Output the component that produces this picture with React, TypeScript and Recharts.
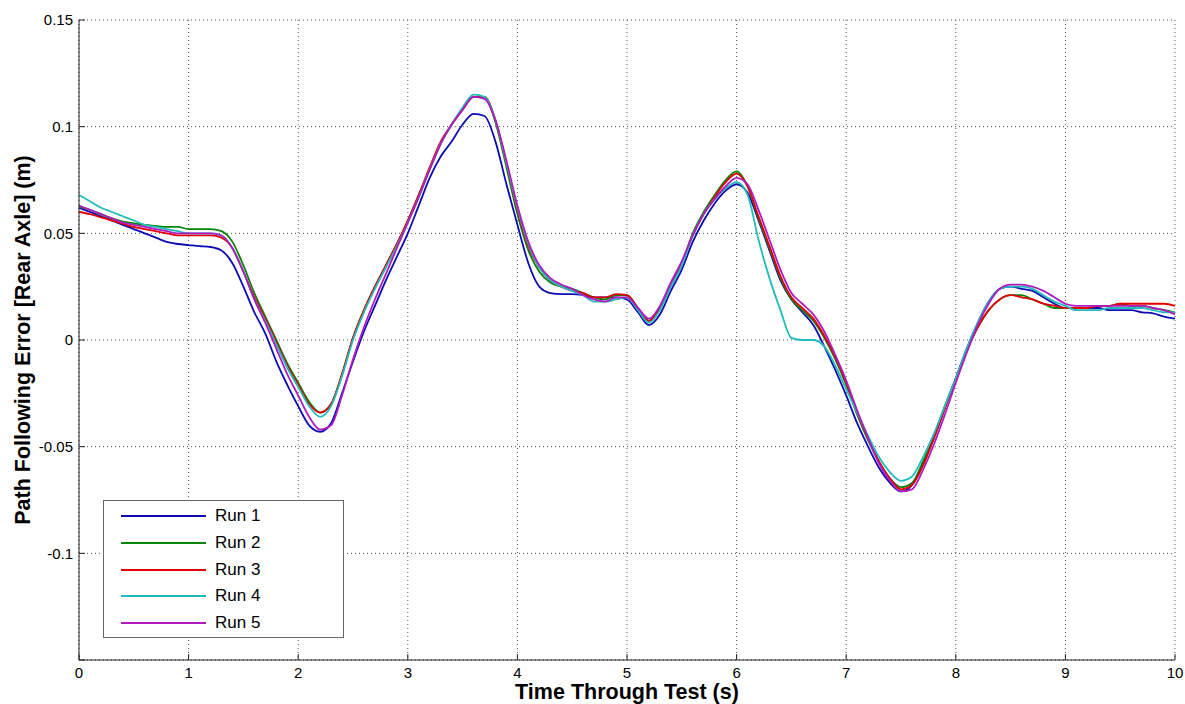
import React from 'react';
import { LineChart, Line, XAxis, YAxis, CartesianGrid, Legend } from 'recharts';

const time = [
  0, 0.1, 0.2, 0.3, 0.4, 0.5, 0.6, 0.7, 0.8, 0.9,
  1, 1.1, 1.2, 1.3, 1.4, 1.5, 1.6, 1.7, 1.8, 1.9,
  2, 2.1, 2.2, 2.3, 2.4, 2.5, 2.6, 2.7, 2.8, 2.9,
  3, 3.1, 3.2, 3.3, 3.4, 3.5, 3.6, 3.7, 3.8, 3.9,
  4, 4.1, 4.2, 4.3, 4.4, 4.5, 4.6, 4.7, 4.8, 4.9,
  5, 5.1, 5.2, 5.3, 5.4, 5.5, 5.6, 5.7, 5.8, 5.9,
  6, 6.1, 6.2, 6.3, 6.4, 6.5, 6.6, 6.7, 6.8, 6.9,
  7, 7.1, 7.2, 7.3, 7.4, 7.5, 7.6, 7.7, 7.8, 7.9,
  8, 8.1, 8.2, 8.3, 8.4, 8.5, 8.6, 8.7, 8.8, 8.9,
  9, 9.1, 9.2, 9.3, 9.4, 9.5, 9.6, 9.7, 9.8, 9.9,
  10,
];

const run1 = [
  0.062, 0.060, 0.058, 0.056, 0.054, 0.052, 0.050, 0.048, 0.046, 0.045,
  0.0445, 0.044, 0.0436, 0.042, 0.036, 0.025, 0.013, 0.003, -0.010, -0.021,
  -0.031, -0.040, -0.043, -0.039, -0.025, -0.010, 0.004, 0.016, 0.028, 0.039,
  0.050, 0.063, 0.076, 0.086, 0.093, 0.101, 0.106, 0.105, 0.093, 0.073,
  0.054, 0.036, 0.025, 0.022, 0.0215, 0.0215, 0.021, 0.020, 0.020, 0.020,
  0.019, 0.013, 0.007, 0.012, 0.023, 0.033, 0.046, 0.056, 0.064, 0.070,
  0.073, 0.069, 0.056, 0.042, 0.028, 0.019, 0.013, 0.007, -0.003, -0.014,
  -0.026, -0.039, -0.050, -0.060, -0.067, -0.071, -0.068, -0.058, -0.046, -0.032,
  -0.018, -0.004, 0.008, 0.018, 0.024, 0.025, 0.024, 0.023, 0.020, 0.017,
  0.015, 0.015, 0.015, 0.015, 0.014, 0.014, 0.014, 0.013, 0.0125, 0.011,
  0.010,
];

const run2 = [
  0.0625, 0.061, 0.059, 0.057, 0.0555, 0.0547, 0.054, 0.0535, 0.053, 0.053,
  0.052, 0.052, 0.052, 0.051, 0.046, 0.035, 0.022, 0.011, 0.000, -0.011,
  -0.020, -0.029, -0.034, -0.030, -0.016, 0.001, 0.014, 0.025, 0.035, 0.045,
  0.056, 0.068, 0.080, 0.092, 0.101, 0.108, 0.114, 0.114, 0.102, 0.081,
  0.059, 0.042, 0.032, 0.027, 0.025, 0.024, 0.022, 0.020, 0.019, 0.021,
  0.021, 0.015, 0.009, 0.015, 0.026, 0.036, 0.050, 0.060, 0.068, 0.075,
  0.079, 0.072, 0.057, 0.043, 0.029, 0.019, 0.014, 0.009, 0.001, -0.009,
  -0.021, -0.035, -0.047, -0.057, -0.065, -0.069, -0.067, -0.057, -0.045, -0.031,
  -0.018, -0.005, 0.006, 0.014, 0.019, 0.021, 0.021, 0.019, 0.017, 0.015,
  0.015, 0.015, 0.015, 0.016, 0.016, 0.017, 0.016, 0.016, 0.015, 0.014,
  0.013,
];

const run3 = [
  0.060, 0.059, 0.0575, 0.056, 0.0545, 0.053, 0.052, 0.051, 0.050, 0.049,
  0.049, 0.049, 0.049, 0.048, 0.043, 0.032, 0.020, 0.010, -0.001, -0.012,
  -0.021, -0.030, -0.034, -0.030, -0.016, 0.001, 0.014, 0.025, 0.035, 0.045,
  0.056, 0.068, 0.081, 0.093, 0.101, 0.108, 0.114, 0.114, 0.103, 0.083,
  0.061, 0.044, 0.034, 0.028, 0.025, 0.023, 0.022, 0.020, 0.020, 0.0215,
  0.021, 0.015, 0.009, 0.015, 0.026, 0.036, 0.049, 0.059, 0.067, 0.074,
  0.078, 0.072, 0.058, 0.044, 0.030, 0.020, 0.015, 0.010, 0.002, -0.008,
  -0.020, -0.034, -0.046, -0.057, -0.065, -0.070, -0.068, -0.059, -0.046, -0.032,
  -0.018, -0.005, 0.006, 0.014, 0.019, 0.021, 0.020, 0.019, 0.017, 0.016,
  0.015, 0.015, 0.015, 0.016, 0.016, 0.017, 0.017, 0.017, 0.017, 0.017,
  0.016,
];

const run4 = [
  0.068, 0.065, 0.062, 0.060, 0.058, 0.056, 0.054, 0.053, 0.052, 0.051,
  0.050, 0.050, 0.050, 0.049, 0.043, 0.032, 0.019, 0.009, -0.002, -0.013,
  -0.022, -0.031, -0.036, -0.031, -0.017, 0.000, 0.013, 0.024, 0.034, 0.044,
  0.055, 0.067, 0.080, 0.092, 0.101, 0.109, 0.115, 0.114, 0.103, 0.083,
  0.062, 0.045, 0.034, 0.028, 0.025, 0.023, 0.021, 0.018, 0.018, 0.019,
  0.020, 0.014, 0.008, 0.014, 0.025, 0.035, 0.049, 0.059, 0.066, 0.071,
  0.074, 0.068, 0.047, 0.029, 0.014, 0.001, 0.000, 0.000, -0.003, -0.012,
  -0.023, -0.034, -0.045, -0.055, -0.062, -0.066, -0.064, -0.055, -0.044, -0.031,
  -0.018, -0.004, 0.008, 0.018, 0.024, 0.025, 0.025, 0.024, 0.021, 0.018,
  0.016, 0.014, 0.014, 0.014, 0.015, 0.015, 0.015, 0.015, 0.014, 0.013,
  0.013,
];

const run5 = [
  0.063, 0.061, 0.059, 0.057, 0.055, 0.054, 0.053, 0.052, 0.051, 0.050,
  0.050, 0.050, 0.050, 0.049, 0.043, 0.032, 0.019, 0.008, -0.004, -0.016,
  -0.026, -0.036, -0.042, -0.040, -0.026, -0.009, 0.006, 0.019, 0.031, 0.043,
  0.055, 0.067, 0.080, 0.092, 0.101, 0.108, 0.114, 0.113, 0.103, 0.084,
  0.063, 0.046, 0.035, 0.029, 0.026, 0.024, 0.021, 0.019, 0.018, 0.020,
  0.020, 0.015, 0.010, 0.016, 0.027, 0.037, 0.049, 0.059, 0.066, 0.072,
  0.076, 0.073, 0.061, 0.047, 0.033, 0.022, 0.017, 0.012, 0.004, -0.007,
  -0.019, -0.033, -0.046, -0.058, -0.066, -0.071, -0.070, -0.061, -0.049, -0.035,
  -0.020, -0.006, 0.007, 0.017, 0.024, 0.026, 0.026, 0.025, 0.023, 0.020,
  0.017, 0.016, 0.016, 0.016, 0.016, 0.016, 0.016, 0.016, 0.015, 0.014,
  0.012,
];

const xTicks = [0, 1, 2, 3, 4, 5, 6, 7, 8, 9, 10];
const yTicks = [-0.15, -0.1, -0.05, 0, 0.05, 0.1, 0.15];

const runs = [
  { key: 'run1', name: 'Run 1', color: '#0c0cb4', values: run1 },
  { key: 'run2', name: 'Run 2', color: '#0a840a', values: run2 },
  { key: 'run3', name: 'Run 3', color: '#e40000', values: run3 },
  { key: 'run4', name: 'Run 4', color: '#20bcbc', values: run4 },
  { key: 'run5', name: 'Run 5', color: '#b01cc0', values: run5 },
];

const rows = time.map((t, i) => {
  const row: Record<string, number> = { t };
  runs.forEach((r) => {
    row[r.key] = r.values[i];
  });
  return row;
});

const font = '"Liberation Sans", Arial, sans-serif';
const tickStyle = { fill: '#000', fontSize: 15, fontFamily: font };

const LegendBox = (props: any) => {
  const items = props.payload || [];
  return (
    <div
      style={{
        width: 241,
        height: 138,
        boxSizing: 'border-box',
        border: '1px solid #666',
        background: '#fff',
        paddingTop: 2,
        fontFamily: font,
        fontSize: 17,
      }}
    >
      {items.map((item: any) => (
        <div key={item.value} style={{ height: 26.7, display: 'flex', alignItems: 'center' }}>
          <svg width={111} height={4}>
            <line x1={17} x2={102} y1={2} y2={2} stroke={item.color} strokeWidth={2} />
          </svg>
          <span style={{ color: '#000' }}>{item.value}</span>
        </div>
      ))}
    </div>
  );
};

export default function App() {
  return (
    <div style={{ position: 'absolute', left: 0, top: 0, background: '#fff' }}>
      <LineChart width={1185} height={704} data={rows} margin={{ top: 20, right: 10, left: 0, bottom: 0 }}>
        <CartesianGrid stroke="#555" strokeDasharray="1 3" />
        <XAxis
          type="number"
          dataKey="t"
          domain={[0, 10]}
          ticks={xTicks}
          interval={0}
          height={44}
          tickSize={-6}
          tickMargin={13}
          tick={tickStyle}
          axisLine={{ stroke: '#222' }}
          tickLine={{ stroke: '#222' }}
          label={{
            value: 'Time Through Test (s)',
            position: 'insideBottom',
            offset: 5,
            style: { fontFamily: font, fontSize: 21.5, fontWeight: 'bold', fill: '#000' },
          }}
        />
        <XAxis
          xAxisId="top"
          orientation="top"
          type="number"
          dataKey="t"
          domain={[0, 10]}
          ticks={xTicks}
          interval={0}
          height={0}
          tickSize={-6}
          tick={false}
          axisLine={{ stroke: '#222' }}
          tickLine={{ stroke: '#222' }}
        />
        <YAxis
          type="number"
          domain={[-0.15, 0.15]}
          ticks={yTicks}
          interval={0}
          width={79}
          tickSize={-6}
          tickMargin={12}
          tick={tickStyle}
          tickFormatter={(v: number) => (v === -0.15 ? '' : String(v))}
          axisLine={{ stroke: '#222' }}
          tickLine={{ stroke: '#222' }}
          label={{
            value: 'Path Following Error [Rear Axle] (m)',
            angle: -90,
            position: 'insideLeft',
            offset: 22,
            style: { textAnchor: 'middle', fontFamily: font, fontSize: 21.5, fontWeight: 'bold', fill: '#000' },
          }}
        />
        <YAxis
          yAxisId="right"
          orientation="right"
          type="number"
          domain={[-0.15, 0.15]}
          ticks={yTicks}
          interval={0}
          width={0}
          tickSize={-6}
          tick={false}
          axisLine={{ stroke: '#222' }}
          tickLine={{ stroke: '#222' }}
        />
        <Legend
          layout="vertical"
          align="center"
          verticalAlign="middle"
          content={<LegendBox />}
          wrapperStyle={{ left: 103, top: 500, width: 241, height: 138 }}
        />
        {runs.map((r) => (
          <Line
            key={r.key}
            type="monotone"
            dataKey={r.key}
            name={r.name}
            stroke={r.color}
            strokeWidth={1.8}
            dot={false}
            isAnimationActive={false}
          />
        ))}
      </LineChart>
    </div>
  );
}
